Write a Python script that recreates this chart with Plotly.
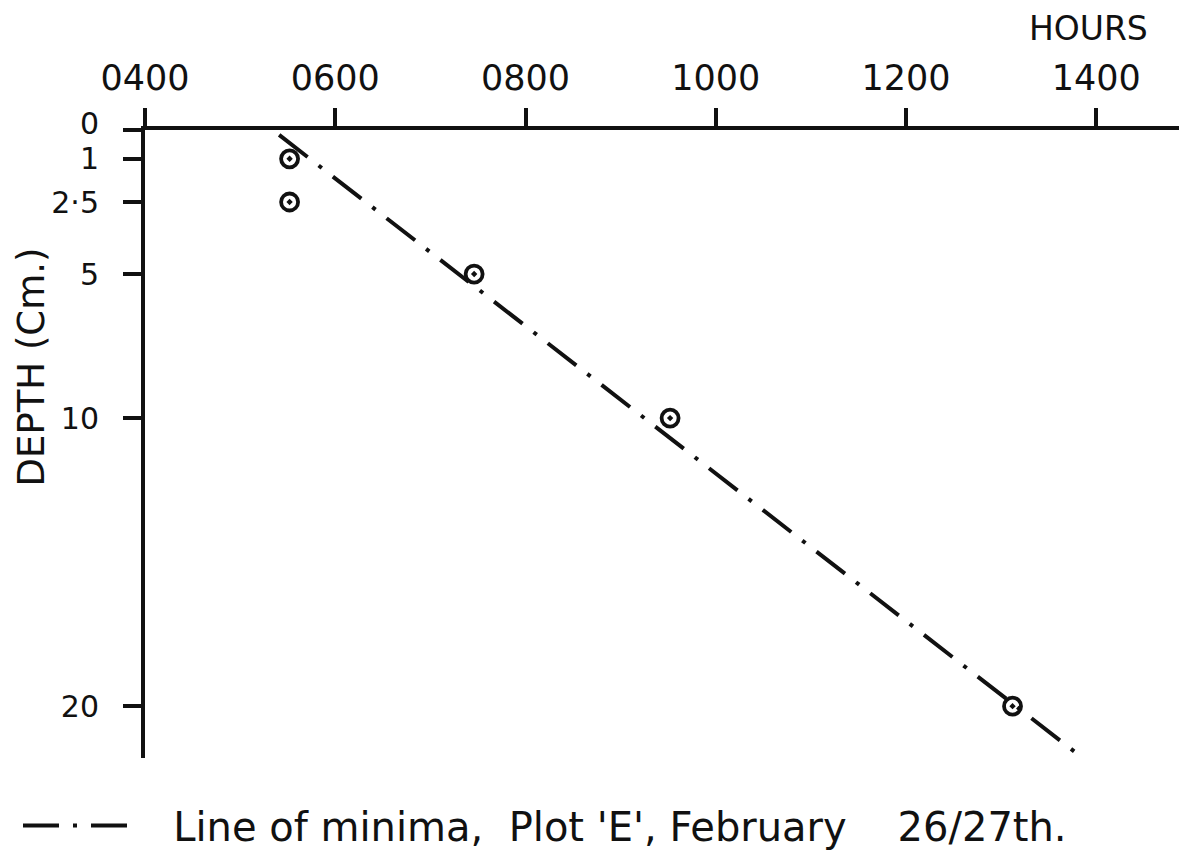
import plotly.graph_objects as go

# Axis ticks
hour_ticks = [4, 6, 8, 10, 12, 14]
hour_labels = ["0400", "0600", "0800", "1000", "1200", "1400"]
depth_ticks = [0, 1, 2.5, 5, 10, 20]
depth_labels = ["0", "1", "2·5", "5", "10", "20"]

# Time of minimum temperature observed at each depth (decimal hours)
obs_hours = [5.52, 5.52, 7.46, 9.52, 13.12]
obs_depth = [1, 2.5, 5, 10, 20]

# Line of minima drawn through the observations
minima_hours = [5.41, 13.78]
minima_depth = [0.17, 21.6]

hour_range = [4.0, 14.87]
depth_range = [21.8, 0]

FONT = "DejaVu Sans"
INK = "#111111"
NB = "\u00a0"
TICKLEN = 18
Y_STANDOFF = 18
Y_TICK_SIZE = 30

legend_name = (NB * 3 + "Line of minima," + NB * 2 + "Plot" + NB + "'E',"
               + NB + "February" + NB * 4 + "26/27th.")

fig = go.Figure()

fig.add_trace(go.Scatter(
    x=minima_hours, y=minima_depth, mode="lines",
    line=dict(color=INK, width=4, dash="36px,14px,4px,14px"),
    name=legend_name, showlegend=True,
))

fig.add_trace(go.Scatter(
    x=obs_hours, y=obs_depth, mode="markers",
    marker=dict(symbol="circle-open-dot", size=17, color=INK,
                line=dict(width=3.8, color=INK)),
    showlegend=False,
))

L, R, T, B = 145, 0, 130, 96
W, H = 1179, 858
plot_w = W - L - R
plot_h = H - T - B


def px_to_paper_x(px):
    return (px - L) / plot_w


def px_to_paper_y(py):
    return (H - B - py) / plot_h


# the surface label sits just above the crowded top of the depth scale
axis_text = [("" if v == 0 else t) for v, t in zip(depth_ticks, depth_labels)]
surface_label = dict(
    text=depth_labels[0], xref="x", yref="y", x=hour_range[0], y=depth_ticks[0],
    xanchor="right", yanchor="middle", showarrow=False,
    xshift=-(TICKLEN + Y_STANDOFF + 8), yshift=7,
    font=dict(size=Y_TICK_SIZE),
)

fig.update_layout(
    width=W, height=H, autosize=False,
    margin=dict(l=L, r=R, t=T, b=B, pad=0),
    paper_bgcolor="white", plot_bgcolor="white",
    font=dict(family=FONT, color=INK, size=35),
    showlegend=True,
    legend=dict(
        orientation="h", x=px_to_paper_x(18), xanchor="left",
        y=px_to_paper_y(830), yanchor="middle",
        font=dict(size=40, family=FONT, color=INK),
        itemwidth=107, bgcolor="rgba(0,0,0,0)", borderwidth=0,
    ),
    xaxis=dict(
        range=hour_range, side="top", showline=True, linecolor=INK, linewidth=4,
        ticks="outside", ticklen=TICKLEN, tickwidth=3.5, tickcolor=INK,
        tickvals=hour_ticks, ticktext=hour_labels, tickfont=dict(size=35),
        ticklabelstandoff=4, showgrid=False, zeroline=False,
    ),
    yaxis=dict(
        range=depth_range, showline=True, linecolor=INK, linewidth=4,
        ticks="outside", ticklen=TICKLEN, tickwidth=3.5, tickcolor=INK,
        tickvals=depth_ticks, ticktext=axis_text, tickfont=dict(size=Y_TICK_SIZE),
        ticklabelstandoff=Y_STANDOFF, showgrid=False, zeroline=False,
    ),
    annotations=[
        surface_label,
        dict(text="HOURS", xref="paper", yref="paper",
             x=px_to_paper_x(1088), y=px_to_paper_y(28),
             xanchor="center", yanchor="middle", showarrow=False,
             font=dict(size=33)),
        dict(text="DEPTH (Cm.)", xref="paper", yref="paper",
             x=px_to_paper_x(31), y=px_to_paper_y(369),
             xanchor="center", yanchor="middle", showarrow=False,
             textangle=-90, font=dict(size=37)),
    ],
)

fig.write_html("out.html")
